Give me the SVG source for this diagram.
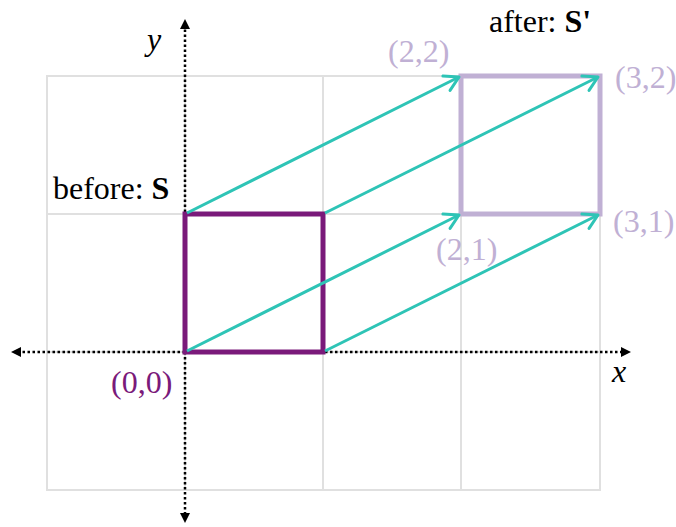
<svg xmlns="http://www.w3.org/2000/svg" width="676" height="527" viewBox="0 0 676 527">
<style>
.grid{stroke:#e0e0e0;stroke-width:2;fill:none}
.axis{stroke:#000;stroke-width:2.5;stroke-dasharray:2.5 2.5;fill:none}
.arr{stroke:#2ec4b6;stroke-width:3;fill:none}
text{font-family:"Liberation Serif","Times New Roman",serif;font-size:32px}
.lp{fill:#c0b0d4}
</style>
<defs>
<marker id="tri" viewBox="0 0 10 10" refX="5" refY="5" markerWidth="10" markerHeight="10" markerUnits="userSpaceOnUse" orient="auto">
<path d="M0,0 L10,5 L0,10 z" fill="#000"/>
</marker>
<marker id="chev" viewBox="0 0 20 20" refX="17" refY="10" markerWidth="20" markerHeight="20" markerUnits="userSpaceOnUse" orient="auto">
<path d="M3,2 L17,10 L3,18" fill="none" stroke="#2ec4b6" stroke-width="3" stroke-linecap="round" stroke-linejoin="round"/>
</marker>
</defs>
<g id="grid" class="grid">
<rect x="47" y="76" width="553" height="414"/>
<line x1="323" y1="76" x2="323" y2="490"/>
<line x1="461" y1="76" x2="461" y2="490"/>
<line x1="47" y1="214" x2="600" y2="214"/>
<line x1="47" y1="352" x2="600" y2="352"/>
<line x1="185" y1="76" x2="185" y2="490"/>
</g>
<g id="axes">
<line class="axis" x1="185" y1="352" x2="185" y2="24" marker-end="url(#tri)"/>
<line class="axis" x1="185" y1="352" x2="185" y2="518" marker-end="url(#tri)"/>
<line class="axis" x1="185" y1="352" x2="626" y2="352" marker-end="url(#tri)"/>
<line class="axis" x1="185" y1="352" x2="16" y2="352" marker-end="url(#tri)"/>
<text x="147" y="50" font-style="italic">y</text>
<text x="612" y="382" font-style="italic">x</text>
</g>
<g id="S">
<rect x="185" y="214" width="138" height="138" fill="none" stroke="#7a1a7a" stroke-width="5"/>
<text x="53" y="199">before: <tspan font-weight="bold">S</tspan></text>
<text x="111" y="393" fill="#7a1a7a">(0,0)</text>
</g>
<g id="Sprime">
<rect x="461" y="76" width="139" height="138" fill="none" stroke="#c0b0d4" stroke-width="5"/>
<text x="489" y="32">after: <tspan font-weight="bold">S'</tspan></text>
<text class="lp" x="388" y="62">(2,2)</text>
<text class="lp" x="615" y="88">(3,2)</text>
<text class="lp" x="613" y="232">(3,1)</text>
<text class="lp" x="436" y="260">(2,1)</text>
</g>
<g id="connectors">
<line class="arr" x1="187" y1="213" x2="459" y2="77" marker-end="url(#chev)"/>
<line class="arr" x1="325" y1="213" x2="598" y2="77" marker-end="url(#chev)"/>
<line class="arr" x1="187" y1="351" x2="459" y2="215" marker-end="url(#chev)"/>
<line class="arr" x1="325" y1="351" x2="598" y2="215" marker-end="url(#chev)"/>
</g>
</svg>
